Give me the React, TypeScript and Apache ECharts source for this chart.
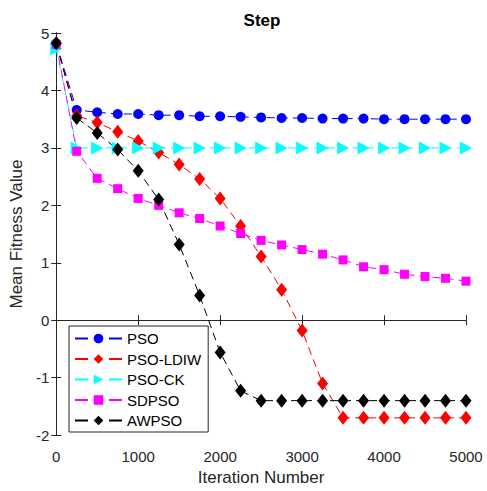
import React, { useEffect, useRef } from "react";
import * as echarts from "echarts";

const iterations = [0, 250, 500, 750, 1000, 1250, 1500, 1750, 2000, 2250, 2500, 2750, 3000, 3250, 3500, 3750, 4000, 4250, 4500, 4750, 5000];
const psoValues = [4.82, 3.66, 3.62, 3.59, 3.59, 3.57, 3.57, 3.55, 3.55, 3.54, 3.53, 3.52, 3.52, 3.51, 3.51, 3.51, 3.50, 3.50, 3.50, 3.50, 3.50];
const ldiwValues = [4.82, 3.56, 3.44, 3.28, 3.12, 2.92, 2.71, 2.46, 2.12, 1.64, 1.11, 0.53, -0.18, -1.10, -1.70, -1.70, -1.70, -1.70, -1.70, -1.70, -1.70];
const ckValues = [4.72, 3.0, 3.0, 3.0, 3.0, 3.0, 3.0, 3.0, 3.0, 3.0, 3.0, 3.0, 3.0, 3.0, 3.0, 3.0, 3.0, 3.0, 3.0, 3.0, 3.0];
const sdpsoValues = [4.8, 2.94, 2.47, 2.29, 2.12, 2.0, 1.87, 1.77, 1.64, 1.51, 1.39, 1.31, 1.23, 1.15, 1.05, 0.93, 0.88, 0.80, 0.76, 0.73, 0.68];
const awpsoValues = [4.82, 3.52, 3.26, 2.97, 2.6, 2.1, 1.32, 0.43, -0.56, -1.23, -1.40, -1.40, -1.40, -1.40, -1.40, -1.40, -1.40, -1.40, -1.40, -1.40, -1.40];
const seriesNames = ["PSO", "PSO-LDIW", "PSO-CK", "SDPSO", "AWPSO"];

const FONT = "'Liberation Sans', Arial, sans-serif";
const AX = "#262626";

export default function App() {
  const ref = useRef<HTMLDivElement>(null);
  useEffect(() => {
    if (!ref.current) return;
    const chart = echarts.init(ref.current, undefined, { renderer: "svg" });
    const pairs = (vals: number[]) => iterations.map((x, i) => [x, vals[i]]);
    const mk = (name: string, vals: number[], color: string, symbol: string, size: any, rotate = 0) => ({
      name,
      type: "line",
      data: pairs(vals),
      symbol,
      symbolSize: size,
      symbolRotate: rotate,
      showAllSymbol: true,
      lineStyle: { color, width: 1, type: [8, 5] },
      itemStyle: { color, borderWidth: 0 },
      emphasis: { disabled: true },
    });
    const axisCommon = {
      axisLine: { show: true, lineStyle: { color: AX, width: 1 } },
      axisTick: { show: true, inside: true, length: 5, lineStyle: { color: AX } },
      splitLine: { show: false },
    };
    chart.setOption({
      animation: false,
      backgroundColor: "#fff",
      title: {
        text: "Step",
        left: 257,
        textAlign: "center",
        top: 7,
        textStyle: { fontFamily: FONT, fontSize: 17, fontWeight: "bold", color: "#000" },
      },
      grid: { left: 56, right: 21, top: 33, bottom: 48, containLabel: false },
      legend: {
        orient: "vertical",
        left: 69,
        top: 326,
        backgroundColor: "#fff",
        borderColor: AX,
        borderWidth: 1,
        borderRadius: 0,
        padding: [5, 7, 4, 5],
        itemGap: 5.5,
        itemWidth: 47,
        itemHeight: 12,
        lineStyle: { type: [13, 21] },
        textStyle: { fontFamily: FONT, fontSize: 15, color: "#000" },
        data: seriesNames,
      },
      xAxis: [
        {
          type: "value",
          min: 0,
          max: 5000,
          interval: 1000,
          position: "bottom",
          name: "Iteration Number",
          nameLocation: "middle",
          nameGap: 32,
          nameTextStyle: { fontFamily: FONT, fontSize: 17, color: AX },
          axisLabel: { fontFamily: FONT, fontSize: 15, color: AX, margin: 14, formatter: (v: number) => String(v) },
          ...axisCommon,
        },
        {
          type: "value",
          min: 0,
          max: 5000,
          interval: 1000,
          position: "top",
          axisLabel: { show: false },
          ...axisCommon,
        },
      ],
      yAxis: [
        {
          type: "value",
          min: -2,
          max: 5,
          interval: 1,
          position: "left",
          name: "Mean Fitness Value",
          nameLocation: "middle",
          nameGap: 28,
          nameTextStyle: { fontFamily: FONT, fontSize: 17, color: AX },
          axisLabel: { fontFamily: FONT, fontSize: 15, color: AX, margin: 7 },
          ...axisCommon,
        },
        {
          type: "value",
          min: -2,
          max: 5,
          interval: 1,
          position: "right",
          axisLabel: { show: false },
          ...axisCommon,
        },
      ],
      series: [
        mk("PSO", psoValues, "#0000ff", "circle", 10),
        mk("PSO-LDIW", ldiwValues, "#ff0000", "diamond", [11, 14]),
        mk("PSO-CK", ckValues, "#00ffff", "triangle", [13, 12], -90),
        mk("SDPSO", sdpsoValues, "#ff00ff", "rect", 9),
        mk("AWPSO", awpsoValues, "#000000", "diamond", [11, 14]),
      ],
    });
    return () => chart.dispose();
  }, []);
  return (
    <div
      ref={ref}
      style={{ position: "fixed", left: 0, top: 0, width: 487, height: 491 }}
    />
  );
}
